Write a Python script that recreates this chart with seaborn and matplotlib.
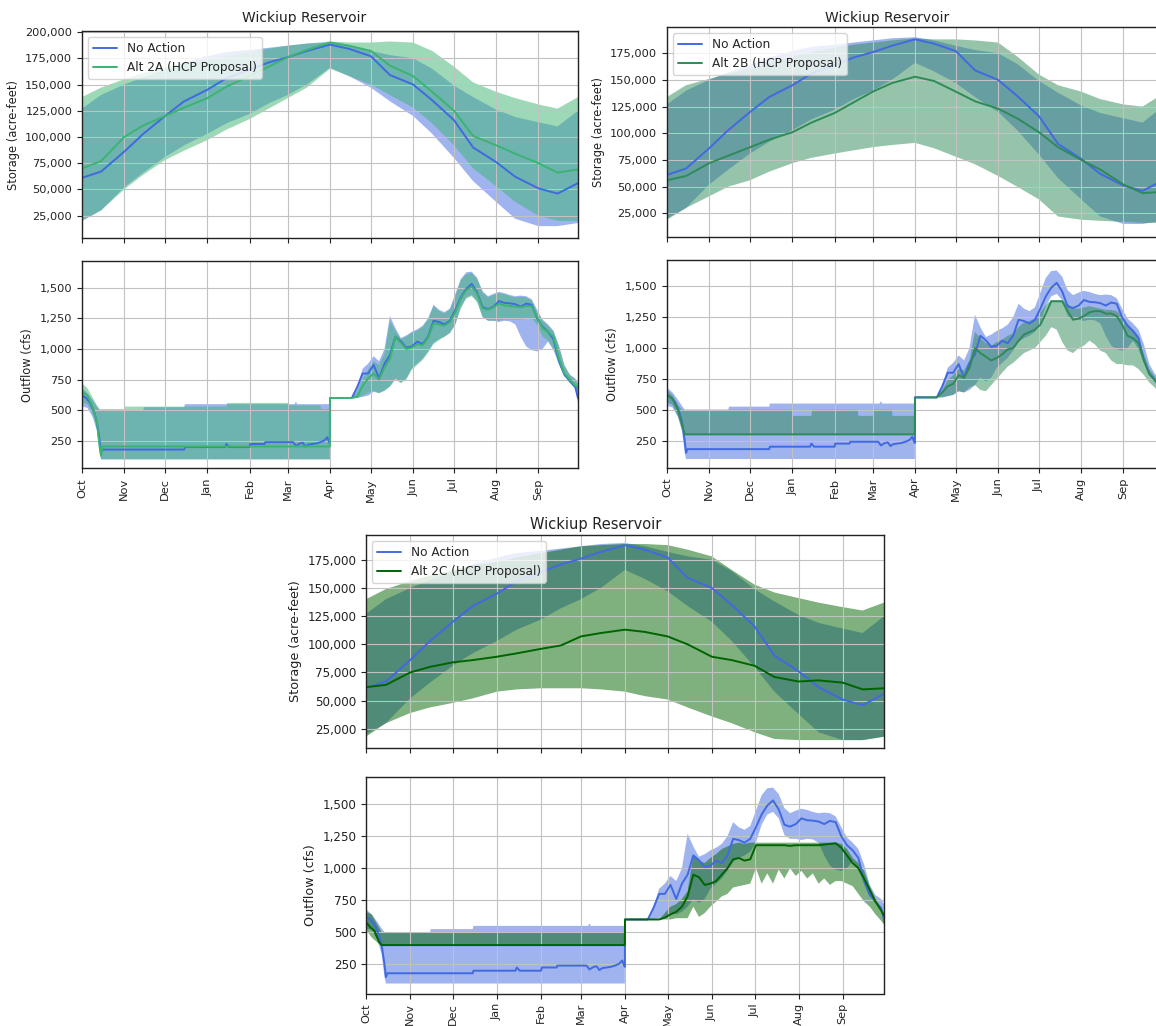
import numpy as np
import pandas as pd
import matplotlib
matplotlib.use("Agg")
import matplotlib.pyplot as plt
import matplotlib.dates as mdates
from matplotlib.ticker import FuncFormatter, MultipleLocator
import seaborn as sns

# ---------------- data ----------------
START = "2000-10-01"
MONTH_LABELS = ["Oct", "Nov", "Dec", "Jan", "Feb", "Mar", "Apr", "May", "Jun", "Jul", "Aug", "Sep"]
TITLE = "Wickiup Reservoir"
NA_LABEL = "No Action"
ALT_LABELS = ["Alt 2A (HCP Proposal)", "Alt 2B (HCP Proposal)", "Alt 2C (HCP Proposal)"]

# storage sample days (days after Oct 1), values in thousand acre-feet
ST_DAYS = [0, 14, 31, 45, 61, 75, 92, 106, 123, 137, 151, 165, 182, 196, 212, 226,
           243, 257, 273, 287, 304, 318, 335, 349, 364]

NA_ST_MID = [61, 67, 86, 103, 120, 134, 145, 156, 164, 171, 176, 182, 188, 184, 177, 159, 150, 135, 116, 90, 76, 62, 51, 46, 56]
NA_ST_LO = [20, 30, 52, 66, 81, 92, 103, 113, 122, 132, 140, 150, 166, 158, 147, 134, 120, 103, 80, 58, 38, 22, 15, 15, 18]
NA_ST_HI = [127, 140, 150, 157, 164, 171, 177, 181, 183, 185, 187, 189, 190, 187, 182, 178, 175, 165, 149, 138, 126, 119, 114, 110, 125]

A2_ST_MID = [70, 77, 100, 111, 120, 128, 137, 148, 158, 167, 176, 183, 190, 187, 182, 168, 158, 143, 125, 101, 92, 84, 75, 66, 69]
A2_ST_LO = [20, 30, 50, 64, 78, 87, 97, 107, 117, 127, 137, 147, 165, 158, 150, 140, 128, 113, 92, 70, 53, 38, 25, 20, 20]
A2_ST_HI = [138, 147, 155, 161, 166, 170, 174, 177, 181, 184, 187, 189, 191, 190, 190, 191, 190, 182, 167, 152, 143, 137, 131, 127, 138]

B2_ST_MID = [56, 60, 72, 79, 87, 94, 101, 110, 119, 129, 139, 147, 153, 149, 139, 130, 123, 114, 101, 87, 75, 66, 52, 44, 45]
B2_ST_LO = [19, 30, 41, 50, 56, 64, 72, 77, 81, 84, 87, 89, 91, 86, 78, 71, 60, 50, 38, 22, 19, 18, 17, 16, 16]
B2_ST_HI = [134, 145, 151, 156, 160, 166, 172, 176, 180, 183, 185, 187, 189, 188, 188, 187, 185, 172, 155, 145, 139, 132, 127, 125, 137]

C2_ST_MID = [62, 64, 75, 80, 84, 86, 89, 92, 96, 99, 107, 110, 113, 111, 107, 100, 89, 86, 81, 71, 67, 68, 66, 60, 61]
C2_ST_LO = [18, 30, 39, 44, 48, 52, 58, 60, 61, 61, 61, 60, 58, 54, 51, 44, 36, 30, 22, 16, 15, 15, 15, 15, 18]
C2_ST_HI = [140, 149, 156, 161, 166, 170, 173, 177, 181, 184, 187, 188, 189, 189, 188, 184, 178, 166, 153, 146, 141, 137, 133, 130, 137]

# outflow (cfs): Oct-Mar breakpoints per series, Apr-Sep on a shared day grid
POST_DAYS = [182, 198, 202, 206, 210, 214, 218, 222, 226, 230, 234, 238, 242, 246, 250, 254,
             258, 262, 266, 270, 274, 278, 282, 286, 290, 294, 298, 302, 306, 310, 314, 318,
             322, 326, 330, 334, 338, 342, 346, 350, 354, 358, 362, 364]

NA_Q_MID_PRE_D = [0, 3, 6, 9, 11, 13, 14, 15, 75, 75.5, 105, 106, 108, 123, 123.5, 134, 134.5,
                  155, 157, 160, 162, 164, 166, 172, 175, 178, 180, 181, 181.9]
NA_Q_MID_PRE_V = [620, 600, 560, 480, 400, 250, 150, 180, 180, 200, 200, 225, 200, 200, 225, 225, 240,
                  240, 210, 230, 235, 205, 220, 230, 240, 255, 280, 250, 230]
NA_Q_LO_PRE_D = [0, 4, 8, 11, 13, 14, 181.9]
NA_Q_LO_PRE_V = [530, 520, 440, 330, 150, 100, 100]
NA_Q_HI_PRE_D = [0, 4, 8, 11, 13, 45, 45.5, 75, 75.5, 156, 157, 158, 181.9]
NA_Q_HI_PRE_V = [680, 640, 580, 530, 500, 500, 525, 525, 550, 550, 570, 550, 550]
NA_Q_MID_POST = [600, 600, 690, 800, 800, 870, 760, 880, 950, 1100, 1063, 1010, 1020, 1060, 1040, 1100,
                 1230, 1220, 1200, 1230, 1320, 1420, 1490, 1530, 1460, 1340, 1325, 1345, 1390, 1375, 1372, 1365,
                 1345, 1370, 1360, 1250, 1180, 1140, 1080, 900, 790, 740, 690, 600]
NA_Q_LO_POST = [600, 600, 600, 610, 620, 650, 640, 660, 700, 760, 730, 760, 840, 880, 920, 980,
                1050, 1080, 1100, 1130, 1200, 1340, 1420, 1440, 1390, 1260, 1230, 1230, 1220, 1230, 1225, 1200,
                1100, 1020, 990, 980, 1000, 1060, 990, 880, 790, 730, 670, 560]
NA_Q_HI_POST = [600, 600, 700, 840, 880, 940, 900, 1000, 1270, 1170, 1090, 1110, 1140, 1160, 1190, 1250,
                1360, 1320, 1300, 1330, 1450, 1570, 1625, 1630, 1580, 1470, 1430, 1450, 1465, 1455, 1440, 1430,
                1435, 1430, 1405, 1320, 1240, 1200, 1150, 1030, 870, 790, 760, 720]

A2_Q_MID_PRE_D = [0, 4, 8, 11, 13, 14, 15, 181.9]
A2_Q_MID_PRE_V = [650, 620, 520, 400, 200, 130, 205, 205]
A2_Q_LO_PRE_D = [0, 4, 8, 11, 13, 14, 181.9]
A2_Q_LO_PRE_V = [560, 550, 470, 350, 150, 100, 100]
A2_Q_HI_PRE_D = [0, 4, 8, 11, 13, 31, 31.5, 106, 106.5, 151, 151.5, 175, 175.5, 181.9]
A2_Q_HI_PRE_V = [720, 680, 600, 540, 510, 510, 530, 530, 560, 560, 540, 540, 510, 510]
A2_Q_MID_POST = [600, 600, 610, 700, 760, 800, 750, 850, 920, 1100, 1050, 1000, 1010, 1040, 1030, 1090,
                 1210, 1200, 1190, 1220, 1300, 1410, 1480, 1510, 1450, 1330, 1320, 1340, 1370, 1355, 1350, 1345,
                 1340, 1350, 1350, 1260, 1170, 1140, 1100, 920, 800, 750, 700, 680]
A2_Q_LO_POST = [600, 600, 600, 620, 640, 660, 640, 660, 690, 750, 720, 750, 830, 870, 910, 970,
                1040, 1070, 1100, 1130, 1200, 1330, 1410, 1430, 1380, 1260, 1230, 1230, 1230, 1240, 1240, 1240,
                1240, 1250, 1250, 1200, 1100, 1070, 1000, 880, 780, 720, 680, 640]
A2_Q_HI_POST = [600, 600, 650, 760, 830, 900, 870, 960, 1230, 1150, 1080, 1100, 1130, 1150, 1180, 1240,
                1350, 1310, 1290, 1320, 1430, 1560, 1610, 1620, 1570, 1460, 1420, 1440, 1455, 1445, 1430, 1420,
                1425, 1420, 1395, 1300, 1230, 1190, 1140, 1020, 860, 790, 750, 720]

B2_Q_MID_PRE_D = [0, 4, 8, 11, 13, 181.9]
B2_Q_MID_PRE_V = [620, 590, 500, 380, 300, 300]
B2_Q_LO_PRE_D = [0, 4, 8, 11, 13, 181.9]
B2_Q_LO_PRE_V = [560, 540, 450, 340, 300, 300]
B2_Q_HI_PRE_D = [0, 4, 8, 11, 13, 92, 92.5, 106, 106.5, 140, 140.5, 151, 151.5, 165, 165.5, 181.9]
B2_Q_HI_PRE_V = [660, 620, 540, 500, 500, 500, 450, 450, 500, 500, 450, 450, 500, 500, 450, 450]
B2_Q_MID_POST = [600, 600, 640, 690, 710, 780, 760, 840, 1000, 960, 930, 900, 920, 950, 990, 1000,
                 1060, 1110, 1130, 1150, 1190, 1280, 1380, 1380, 1380, 1300, 1230, 1240, 1260, 1290, 1300, 1300,
                 1280, 1280, 1260, 1190, 1100, 1080, 1040, 900, 790, 740, 680, 640]
B2_Q_LO_POST = [600, 600, 600, 610, 620, 650, 640, 680, 700, 660, 650, 700, 750, 800, 850, 880,
                920, 960, 980, 1000, 1050, 1100, 1170, 1150, 1050, 980, 960, 1000, 1020, 1060, 1030, 980,
                960, 900, 870, 870, 860, 860, 830, 780, 720, 680, 620, 600]
B2_Q_HI_POST = [600, 600, 660, 740, 780, 830, 820, 900, 1130, 1080, 1040, 1020, 1050, 1070, 1100, 1120,
                1170, 1210, 1220, 1240, 1290, 1350, 1390, 1390, 1390, 1360, 1320, 1320, 1330, 1340, 1330, 1320,
                1310, 1310, 1300, 1260, 1200, 1150, 1100, 950, 830, 770, 700, 660]

C2_Q_MID_PRE_D = [0, 3, 6, 9, 11, 181.9]
C2_Q_MID_PRE_V = [580, 540, 510, 430, 400, 400]
C2_Q_LO_PRE_D = [0, 4, 8, 10, 181.9]
C2_Q_LO_PRE_V = [520, 460, 420, 400, 400]
C2_Q_HI_PRE_D = [0, 4, 8, 11, 181.9]
C2_Q_HI_PRE_V = [660, 640, 560, 500, 500]
C2_Q_MID_POST = [600, 600, 600, 600, 615, 640, 660, 700, 780, 950, 930, 870, 880, 900, 950, 1000,
                 1070, 1080, 1060, 1070, 1180, 1180, 1180, 1180, 1180, 1180, 1175, 1180, 1180, 1180, 1180, 1180,
                 1185, 1190, 1195, 1160, 1100, 1040, 1000, 920, 830, 740, 670, 630]
C2_Q_LO_POST = [600, 600, 600, 600, 600, 600, 610, 610, 610, 700, 620, 650, 700, 740, 780, 800,
                850, 860, 870, 880, 1000, 880, 960, 880, 990, 920, 1000, 940, 980, 920, 960, 880,
                920, 870, 900, 900, 880, 860, 800, 740, 700, 640, 590, 560]
C2_Q_HI_POST = [600, 600, 600, 600, 650, 700, 720, 760, 820, 1100, 1060, 1040, 1080, 1110, 1150, 1170,
                1190, 1200, 1190, 1200, 1200, 1200, 1200, 1200, 1200, 1200, 1200, 1200, 1200, 1200, 1200, 1200,
                1200, 1200, 1200, 1190, 1150, 1080, 1040, 980, 860, 760, 680, 640]

# ---------------- style ----------------
sns.set_theme(style="ticks")
plt.rcParams["font.family"] = ["DejaVu Sans"]

NA_COLOR = "royalblue"
ALT_COLORS = ["mediumseagreen", "seagreen", "darkgreen"]

W, H = 1156, 1026
fig = plt.figure(figsize=(W / 100, H / 100), dpi=100)


def rect(left, top, right, bottom):
    return [left / W, 1 - bottom / H, (right - left) / W, (bottom - top) / H]


def dnum(days):
    t = pd.Timestamp(START) + pd.to_timedelta(np.asarray(days, dtype=float), unit="D")
    return mdates.date2num(t.to_numpy())


MONTH_STARTS = mdates.date2num(pd.date_range(START, periods=12, freq="MS").to_numpy())
XLIM = (dnum([0])[0], dnum([364])[0])
fmt = FuncFormatter(lambda v, p: f"{v:,.0f}")


def band(ax, xlo, lo, xhi, hi, color):
    xs = np.concatenate([xhi, xlo[::-1]])
    ys = np.concatenate([np.asarray(hi, float), np.asarray(lo, float)[::-1]])
    ax.fill(xs, ys, color=color, alpha=0.5, lw=0, zorder=1)


def line(ax, x, y, color, label=None):
    kw = dict(label=label) if label else {}
    sns.lineplot(x=x, y=np.asarray(y, float), ax=ax, color=color, linewidth=1.4,
                 estimator=None, errorbar=None, sort=False, **kw)


def style_axes(ax, ylim, ystep, fs, xfs, lab, labfs, showx):
    ax.set_xlim(*XLIM)
    ax.set_ylim(*ylim)
    ax.set_xticks(MONTH_STARTS)
    ax.yaxis.set_major_locator(MultipleLocator(ystep))
    ax.yaxis.set_major_formatter(fmt)
    ax.set_axisbelow("line")
    ax.grid(True, color="#c2c2c2", linewidth=0.8)
    for s in ax.spines.values():
        s.set_visible(True)
        s.set_color("#222222")
        s.set_linewidth(1.0)
    ax.tick_params(axis="both", labelsize=fs, length=3.5, width=0.8, colors="#222222")
    ax.set_ylabel(lab, fontsize=labfs, color="#222222")
    if showx:
        ax.set_xticklabels(MONTH_LABELS, rotation=90, fontsize=xfs)
    else:
        ax.tick_params(labelbottom=False)
    ax.set_xlabel("")


panels = [
    dict(alt_st=(A2_ST_LO, A2_ST_MID, A2_ST_HI),
         alt_q=((A2_Q_LO_PRE_D, A2_Q_LO_PRE_V, A2_Q_LO_POST),
                (A2_Q_MID_PRE_D, A2_Q_MID_PRE_V, A2_Q_MID_POST),
                (A2_Q_HI_PRE_D, A2_Q_HI_PRE_V, A2_Q_HI_POST)),
         st_rect=rect(82, 31, 578, 238.3), q_rect=rect(82, 261, 578, 468.3),
         st_ylim=(3400, 201000), q_ylim=(27, 1717), title=(304, 18), fs=8.2, xfs=8.2, labfs=8.3, tfs=10),
    dict(alt_st=(B2_ST_LO, B2_ST_MID, B2_ST_HI),
         alt_q=((B2_Q_LO_PRE_D, B2_Q_LO_PRE_V, B2_Q_LO_POST),
                (B2_Q_MID_PRE_D, B2_Q_MID_PRE_V, B2_Q_MID_POST),
                (B2_Q_HI_PRE_D, B2_Q_HI_PRE_V, B2_Q_HI_POST)),
         st_rect=rect(667, 27.3, 1163, 236.7), q_rect=rect(667, 260, 1163, 468),
         st_ylim=(3100, 199300), q_ylim=(27, 1715), title=(887, 18), fs=8.2, xfs=8.2, labfs=8.3, tfs=10),
    dict(alt_st=(C2_ST_LO, C2_ST_MID, C2_ST_HI),
         alt_q=((C2_Q_LO_PRE_D, C2_Q_LO_PRE_V, C2_Q_LO_POST),
                (C2_Q_MID_PRE_D, C2_Q_MID_PRE_V, C2_Q_MID_POST),
                (C2_Q_HI_PRE_D, C2_Q_HI_PRE_V, C2_Q_HI_POST)),
         st_rect=rect(366, 535, 884, 748), q_rect=rect(366, 776.7, 884, 993.5),
         st_ylim=(8000, 197000), q_ylim=(22, 1715), title=(596, 524), fs=8.6, xfs=8.1, labfs=9.2, tfs=10.5),
]

na_q = ((NA_Q_LO_PRE_D, NA_Q_LO_PRE_V, NA_Q_LO_POST),
        (NA_Q_MID_PRE_D, NA_Q_MID_PRE_V, NA_Q_MID_POST),
        (NA_Q_HI_PRE_D, NA_Q_HI_PRE_V, NA_Q_HI_POST))


def q_series(spec):
    d, v, post = spec
    return dnum(list(d) + POST_DAYS), np.asarray(list(v) + list(post), float)


x_st = dnum(ST_DAYS)
for i, p in enumerate(panels):
    color = ALT_COLORS[i]
    # ---- storage ----
    ax = fig.add_axes(p["st_rect"])
    lo, mid, hi = p["alt_st"]
    band(ax, x_st, np.array(NA_ST_LO) * 1000, x_st, np.array(NA_ST_HI) * 1000, NA_COLOR)
    band(ax, x_st, np.array(lo) * 1000, x_st, np.array(hi) * 1000, color)
    line(ax, x_st, np.array(NA_ST_MID) * 1000, NA_COLOR, NA_LABEL)
    line(ax, x_st, np.array(mid) * 1000, color, ALT_LABELS[i])
    style_axes(ax, p["st_ylim"], 25000, p["fs"], p["xfs"], "Storage (acre-feet)", p["labfs"], False)
    ax.legend(loc="upper left", fontsize=8.7, frameon=True, framealpha=0.8,
              edgecolor="#cccccc", fancybox=True)
    fig.text(p["title"][0] / W, 1 - p["title"][1] / H, TITLE, ha="center", va="center",
             fontsize=p["tfs"], color="#222222")
    # ---- outflow ----
    ax = fig.add_axes(p["q_rect"])
    (xl, yl), (xm, ym), (xh, yh) = [q_series(s) for s in na_q]
    band(ax, xl, yl, xh, yh, NA_COLOR)
    (al, aly), (am, amy), (ah, ahy) = [q_series(s) for s in p["alt_q"]]
    band(ax, al, aly, ah, ahy, color)
    line(ax, xm, ym, NA_COLOR)
    line(ax, am, amy, color)
    if ax.get_legend() is not None:
        ax.get_legend().remove()
    style_axes(ax, p["q_ylim"], 250, p["fs"], p["xfs"], "Outflow (cfs)", p["labfs"], True)

fig.savefig("out.png", dpi=100)
